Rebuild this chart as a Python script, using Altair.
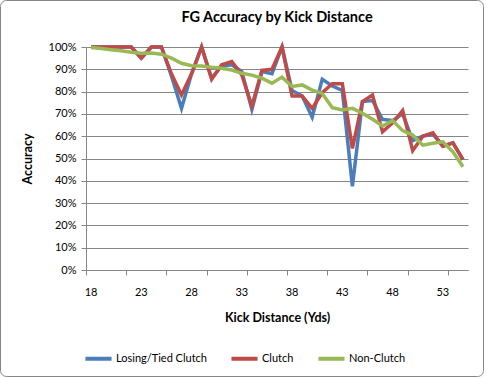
import altair as alt
import pandas as pd

distances = list(range(18, 56))
series_names = ["Losing/Tied Clutch", "Clutch", "Non-Clutch"]
series_colors = ["#4A7EBB", "#BE4B48", "#98B954"]

losing_tied = [100, 100, 100, 100, 100, 95, 100, 100, 87, 72.5, 88, 100, 86, 91.5, 92, 89, 72, 89, 88, 100,
               80.5, 78, 68.5, 85.5, 82.5, 80.5, 37.5, 75.5, 76, 67.5, 67, 70, 58, 60, 61, 55.5, 57, 49.5]
clutch = [100, 100, 100, 100, 100, 95, 100, 100, 88, 78.5, 88, 100, 85.5, 92, 93.5, 87.5, 73.5, 89.5, 90, 100,
          78, 78, 72.5, 79.5, 83.5, 83.5, 54.5, 75.5, 78.5, 62, 66, 71.5, 53.5, 60, 61.5, 55.5, 57, 49.5]
non_clutch = [99.8, 99.3, 98.8, 98.3, 97.6, 97.2, 97.3, 96.8, 95, 92.7, 91.6, 91.5, 90.9, 90.5, 89.7, 88.2, 87.4,
              86, 83.7, 86.5, 82.3, 83, 80.7, 79.2, 72.8, 71.8, 72.5, 70.3, 67.6, 64.6, 67, 62.5, 60.5, 56, 56.8,
              57.5, 53, 46.3]

x_labels = [18, 23, 28, 33, 38, 43, 48, 53]
y_ticks = [i / 10 for i in range(11)]

rows = []
for name, vals in zip(series_names, [losing_tied, clutch, non_clutch]):
    for d, v in zip(distances, vals):
        rows.append({"distance": d, "series": name, "accuracy": v / 100.0, "order": series_names.index(name)})
df = pd.DataFrame(rows)
labels_df = pd.DataFrame({"distance": x_labels, "label": [str(v) for v in x_labels]})

FONT = "Lato"
GRAY = "#868686"

x_scale = alt.Scale(domain=[distances[0] - 0.5, distances[-1] + 0.5], nice=False, zero=False)
tick_vals = [d - 0.5 for d in distances] + [distances[-1] + 0.5]

x_enc = alt.X(
    "distance:Q",
    scale=x_scale,
    axis=alt.Axis(
        title="Kick Distance (Yds)",
        values=tick_vals,
        labels=False,
        grid=False,
        tickSize=5,
        tickColor=GRAY,
        domainColor=GRAY,
        titleFontSize=12.5,
        titleFontWeight="bold",
        titlePadding=36,
        titleColor="#000000",
    ),
)

y_enc = alt.Y(
    "accuracy:Q",
    scale=alt.Scale(domain=[0, 1], nice=False),
    axis=alt.Axis(
        title="Accuracy",
        values=y_ticks,
        format=".0%",
        grid=True,
        gridColor=GRAY,
        gridWidth=1,
        tickSize=5,
        tickColor=GRAY,
        domainColor=GRAY,
        labelPadding=5,
        labelFontSize=11,
        labelColor="#000000",
        titleFontSize=12.5,
        titleFontWeight="bold",
        titlePadding=14,
        titleColor="#000000",
    ),
)

lines = alt.Chart(df).mark_line(strokeWidth=3.5, strokeJoin="miter").encode(
    x=x_enc,
    y=y_enc,
    color=alt.Color(
        "series:N",
        scale=alt.Scale(domain=series_names, range=series_colors),
        sort=series_names,
        legend=alt.Legend(
            title=None,
            orient="none",
            legendX=-3,
            legendY=296,
            direction="horizontal",
            symbolType="stroke",
            symbolSize=680,
            symbolStrokeWidth=4,
            labelFontSize=11,
            labelColor="#000000",
            columnPadding=16,
            labelOffset=2,
        ),
    ),
    order=alt.Order("order:Q"),
)

xlabels = alt.Chart(labels_df).mark_text(fontSize=11, font=FONT, color="#000000", baseline="middle").encode(
    x=alt.X("distance:Q", scale=x_scale),
    y=alt.value(246),
    text="label:N",
)

border = alt.Chart(pd.DataFrame({"k": [0]})).mark_rect(
    fill=None, stroke=GRAY, strokeWidth=1, cornerRadius=6, clip=False
).encode(
    x=alt.value(-85.5), x2=alt.value(397.5), y=alt.value(-46.5), y2=alt.value(329.5)
)

chart = alt.layer(border, lines, xlabels).properties(
    width=382,
    height=223,
    title=alt.TitleParams("FG Accuracy by Kick Distance", fontSize=14.5, fontWeight="bold", font=FONT,
                          anchor="middle", offset=0, dy=25, color="#000000"),
    autosize=alt.AutoSizeParams(type="none"),
    padding={"left": 86, "top": 47, "right": 18, "bottom": 108},
).configure(
    font=FONT,
    background="white",
).configure_view(
    stroke=None,
).configure_axis(
    labelFont=FONT,
    titleFont=FONT,
).configure_legend(
    labelFont=FONT,
)

chart.save("out.html", embed_options={"renderer": "svg", "actions": False})
